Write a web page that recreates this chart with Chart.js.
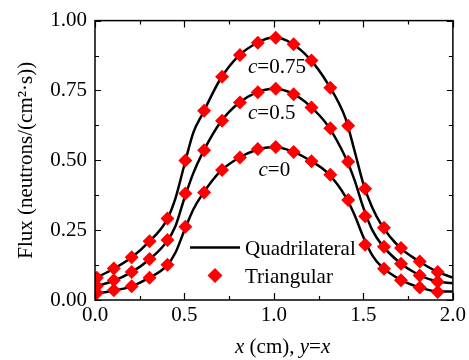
<!DOCTYPE html>
<html><head><meta charset="utf-8">
<script src="https://cdn.jsdelivr.net/npm/chart.js@4"></script>
<style>html,body{margin:0;padding:0;background:#fff}</style>
</head><body>
<canvas id="c" width="469" height="360"></canvas>
<script>
// Triangular mesh results (markers)
const triX = [0.01,0.105,0.205,0.305,0.405,0.505,0.61,0.71,0.81,0.91,1.01,1.11,1.21,1.315,1.415,1.51,1.615,1.71,1.815,1.915];
const triC075 = [0.08,0.113,0.153,0.21,0.292,0.499,0.677,0.799,0.877,0.921,0.939,0.915,0.857,0.76,0.624,0.398,0.259,0.186,0.138,0.10];
const triC05  = [0.05,0.071,0.10,0.147,0.215,0.381,0.536,0.642,0.707,0.744,0.756,0.736,0.689,0.615,0.495,0.30,0.191,0.13,0.088,0.065];
const triC0   = [0.025,0.035,0.049,0.08,0.126,0.262,0.385,0.465,0.51,0.54,0.548,0.53,0.497,0.448,0.358,0.198,0.112,0.071,0.045,0.029];
// Quadrilateral mesh results (lines)
const quadX = [0,0.1,0.2,0.3,0.4,0.45,0.5,0.55,0.6,0.7,0.8,0.9,1.0,1.1,1.2,1.3,1.4,1.45,1.5,1.55,1.6,1.7,1.8,1.9,2.0];
const quadC075 = [0.078,0.11,0.15,0.207,0.285,0.365,0.485,0.6,0.665,0.79,0.872,0.918,0.94,0.918,0.863,0.775,0.65,0.535,0.415,0.33,0.27,0.19,0.143,0.105,0.08];
const quadC05  = [0.048,0.068,0.098,0.143,0.208,0.265,0.365,0.455,0.525,0.635,0.703,0.742,0.756,0.74,0.695,0.625,0.51,0.43,0.33,0.25,0.2,0.135,0.093,0.068,0.06];
const quadC0   = [0.022,0.033,0.048,0.078,0.122,0.17,0.25,0.325,0.378,0.46,0.507,0.537,0.548,0.533,0.5,0.455,0.37,0.305,0.225,0.16,0.12,0.075,0.048,0.032,0.03];
// Axis ticks
const xTicks = [0,0.5,1.0,1.5,2.0];
const yTicks = [0,0.25,0.5,0.75,1.0];
// Curve labels
const curveLabelText = ['0.75','0.5','0'];
const curveLabelX = [0.855,0.855,0.914];
const curveLabelY = [0.813,0.648,0.445];
const legendNames = ['Quadrilateral','Triangular'];
const xTitleParts = [['x',true],[' (cm), ',false],['y',true],['=',false],['x',true]];
const yTitle = 'Flux (neutrons/(cm\u00B2\u00B7s))';

const FONT = "'Liberation Serif', 'Times New Roman', serif";
const pts = (xs, ys) => xs.map((v,i)=>({x:v,y:ys[i]}));

const lineDs = (d) => ({type:'scatter', data:pts(quadX,d), showLine:true, borderColor:'#000', borderWidth:2.5,
  pointRadius:0, cubicInterpolationMode:'monotone', order:2, fill:false});
const markDs = (d) => ({type:'scatter', data:pts(triX,d), showLine:false, pointStyle:'rectRot', pointRadius:7,
  pointBackgroundColor:'#ff0000', pointBorderWidth:0, pointBorderColor:'#ff0000', order:1});

const deco = {
  id:'deco',
  afterDatasetsDraw(chart){
    const {ctx, chartArea:a, scales:{x,y}} = chart;
    ctx.save();
    ctx.strokeStyle='#000';
    ctx.lineWidth=1.5;
    ctx.strokeRect(a.left, a.top, a.right-a.left, a.bottom-a.top);
    ctx.lineWidth=1.2;
    ctx.beginPath();
    const xs=[]; for(let i=0;i<xTicks.length;i++){xs.push([xTicks[i],7]); if(i<xTicks.length-1) xs.push([(xTicks[i]+xTicks[i+1])/2,4]);}
    xs.forEach(([v,L])=>{const p=Math.round(x.getPixelForValue(v))+0.5; ctx.moveTo(p,a.bottom); ctx.lineTo(p,a.bottom-L); ctx.moveTo(p,a.top); ctx.lineTo(p,a.top+L);});
    const ys=[]; for(let i=0;i<yTicks.length;i++){ys.push([yTicks[i],6]); if(i<yTicks.length-1) ys.push([(yTicks[i]+yTicks[i+1])/2,4]);}
    ys.forEach(([v,L])=>{const p=Math.round(y.getPixelForValue(v))+0.5; ctx.moveTo(a.left,p); ctx.lineTo(a.left+L,p); ctx.moveTo(a.right,p); ctx.lineTo(a.right-L,p);});
    ctx.stroke();
    // curve labels
    ctx.fillStyle='#000';
    ctx.textBaseline='alphabetic';
    ctx.textAlign='left';
    curveLabelText.forEach((t,i)=>{
      let px=x.getPixelForValue(curveLabelX[i]); const py=y.getPixelForValue(curveLabelY[i]);
      ctx.font='italic 21px '+FONT; ctx.fillText('c',px,py); px+=ctx.measureText('c').width;
      ctx.font='21px '+FONT; ctx.fillText('='+t,px,py);
    });
    // legend
    const lx=a.left+95, ly1=a.top+227, ly2=a.top+255;
    ctx.lineWidth=2.5; ctx.beginPath(); ctx.moveTo(lx,ly1); ctx.lineTo(lx+50,ly1); ctx.stroke();
    ctx.fillStyle='#ff0000'; ctx.beginPath();
    const cx=lx+25, r=7.5; ctx.moveTo(cx,ly2-r); ctx.lineTo(cx+r,ly2); ctx.lineTo(cx,ly2+r); ctx.lineTo(cx-r,ly2); ctx.closePath(); ctx.fill();
    ctx.fillStyle='#000'; ctx.font='21px '+FONT;
    ctx.fillText(legendNames[0], lx+55, ly1+7.5);
    ctx.fillText(legendNames[1], lx+55, ly2+7.5);
    // x axis title
    let tx=235; const tyb=353;
    xTitleParts.forEach(([s,it])=>{ctx.font=(it?'italic ':'')+'21px '+FONT; ctx.fillText(s,tx,tyb); tx+=ctx.measureText(s).width;});
    ctx.restore();
  }
};

new Chart(document.getElementById('c'), {
  type:'scatter',
  data:{datasets:[
    Object.assign(markDs(triC075),{label:'Triangular c=0.75'}),
    Object.assign(markDs(triC05),{label:'Triangular c=0.5'}),
    Object.assign(markDs(triC0),{label:'Triangular c=0'}),
    Object.assign(lineDs(quadC075),{label:'Quadrilateral c=0.75'}),
    Object.assign(lineDs(quadC05),{label:'Quadrilateral c=0.5'}),
    Object.assign(lineDs(quadC0),{label:'Quadrilateral c=0'})
  ]},
  options:{
    responsive:false, animation:false, devicePixelRatio:1,
    layout:{padding:{left:0,right:13,top:17,bottom:0}, autoPadding:false},
    plugins:{legend:{display:false}, tooltip:{enabled:false}},
    scales:{
      x:{type:'linear', min:0, max:2,
        afterFit:(s)=>{s.height=60;},
        afterBuildTicks:(s)=>{s.ticks=xTicks.map(v=>({value:v}));},
        grid:{display:false, drawTicks:false}, border:{display:false},
        ticks:{padding:3, color:'#000', font:{family:FONT,size:21}, maxRotation:0, callback:(v)=>Number(v).toFixed(1)}
      },
      y:{type:'linear', min:0, max:1,
        afterFit:(s)=>{s.width=95;},
        afterBuildTicks:(s)=>{s.ticks=yTicks.map(v=>({value:v}));},
        grid:{display:false, drawTicks:false}, border:{display:false},
        ticks:{padding:8, color:'#000', font:{family:FONT,size:21}, callback:(v)=>Number(v).toFixed(2)},
        title:{display:true, text:yTitle, color:'#000', font:{family:FONT,size:21,lineHeight:1.2}, padding:{top:14,bottom:0}}
      }
    }
  },
  plugins:[deco]
});
</script>
</body></html>
